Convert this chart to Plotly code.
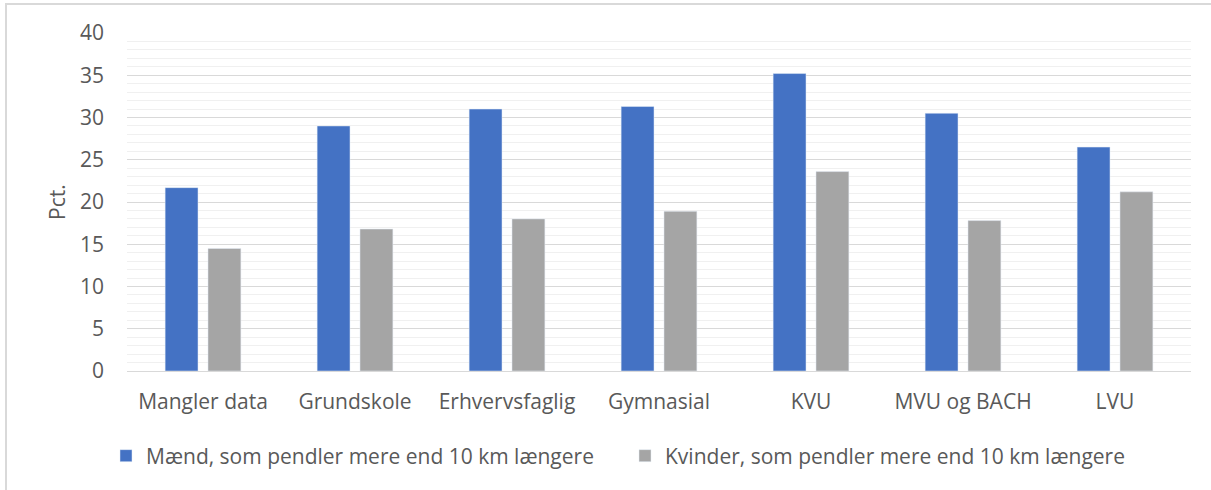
import plotly.graph_objects as go

categories = ["Mangler data", "Grundskole", "Erhvervsfaglig", "Gymnasial", "KVU", "MVU og BACH", "LVU"]
maend = [21.7, 29.0, 31.0, 31.3, 35.2, 30.5, 26.5]
kvinder = [14.5, 16.8, 18.0, 18.9, 23.6, 17.8, 21.2]
series_names = ["Mænd, som pendler mere end 10 km længere", "Kvinder, som pendler mere end 10 km længere"]
y_ticks = [0, 5, 10, 15, 20, 25, 30, 35, 40]

W, H = 1211, 490
ML, MR, MT, MB = 127, 20, 33, 119
PW, PH = W - ML - MR, H - MT - MB

def px_x(px):
    return (px - ML) / PW

def px_y(py):
    return (H - MB - py) / PH

FONT = "Open Sans"
TXT = "#595959"
FS = 21

fig = go.Figure()
fig.add_trace(go.Bar(x=categories, y=maend, name=series_names[0], marker=dict(color="#4472C4")))
fig.add_trace(go.Bar(x=categories, y=kvinder, name=series_names[1], marker=dict(color="#A5A5A5")))

fig.update_layout(
    width=W, height=H,
    margin=dict(l=ML, r=MR, t=MT, b=MB, autoexpand=False),
    paper_bgcolor="white", plot_bgcolor="white",
    barmode="group", bargap=0.436, bargroupgap=0.233,
    font=dict(family=FONT, size=FS, color=TXT),
    showlegend=True,
    legend=dict(orientation="h", x=px_x(106), xanchor="left", y=px_y(456), yanchor="middle",
                font=dict(family=FONT, size=FS, color=TXT), itemwidth=30,
                entrywidth=474, entrywidthmode="pixels",
                bgcolor="rgba(0,0,0,0)"),
    xaxis=dict(showgrid=False, showline=True, linecolor="#D9D9D9", linewidth=1,
               ticks="", ticklabelstandoff=12, tickfont=dict(size=FS, color=TXT), fixedrange=True),
    yaxis=dict(range=[0, 40], tickvals=y_ticks, showgrid=True, gridcolor="#D9D9D9", gridwidth=1,
               zeroline=False, showline=False, ticks="", ticklabelstandoff=22,
               tickfont=dict(size=FS, color=TXT), fixedrange=True,
               minor=dict(dtick=1, showgrid=True, gridcolor="#F0F0F0", gridwidth=1)),
    annotations=[
        dict(text="Pct.", xref="paper", yref="paper", x=px_x(57), y=px_y(202), textangle=-90,
             showarrow=False, xanchor="center", yanchor="middle", font=dict(size=FS, color=TXT)),
    ],
    shapes=[
        dict(type="line", xref="paper", yref="paper", x0=px_x(6), x1=px_x(6), y0=px_y(4), y1=px_y(500),
             line=dict(color="#D9D9D9", width=2)),
        dict(type="line", xref="paper", yref="paper", x0=px_x(5), x1=px_x(1220), y0=px_y(4), y1=px_y(4),
             line=dict(color="#D9D9D9", width=2)),
    ],
)

fig.write_html("out.html", config={"displayModeBar": False},
               post_script="document.body.style.margin='0';document.body.style.overflow='hidden';")
